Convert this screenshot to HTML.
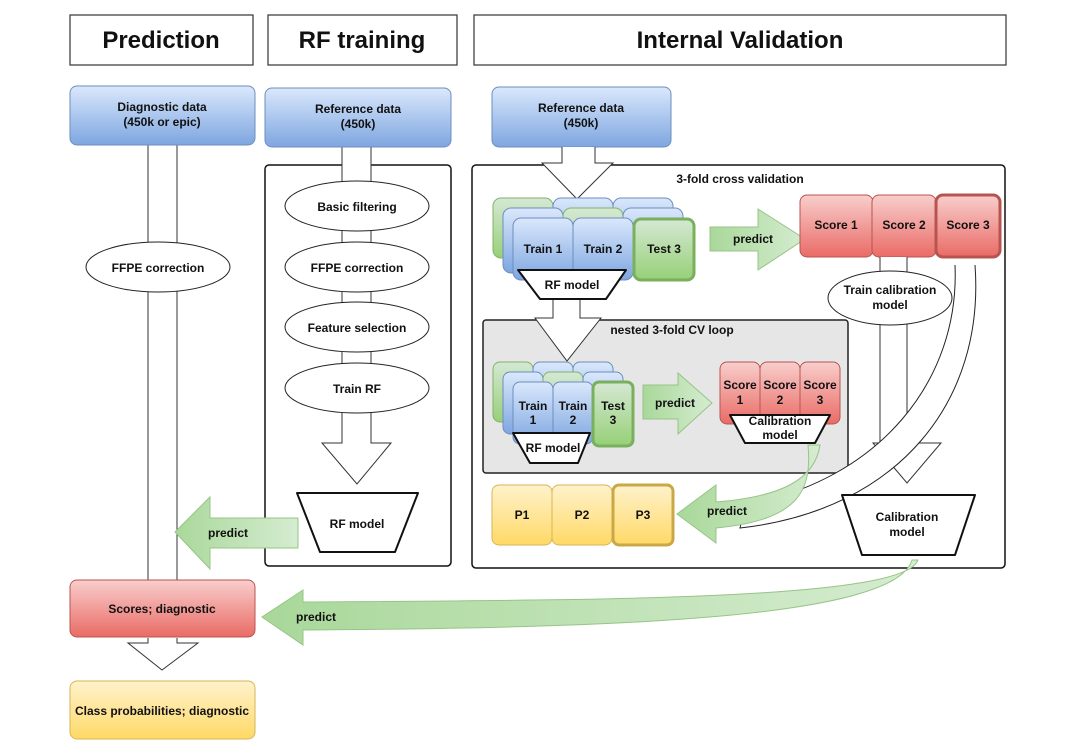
<!DOCTYPE html>
<html><head><meta charset="utf-8"><style>
html,body{margin:0;padding:0;background:#fff}
svg{display:block}
text{font-family:"Liberation Sans",Arial,sans-serif;font-weight:bold;fill:#111}
</style></head><body>
<svg width="1080" height="750" viewBox="0 0 1080 750" xmlns="http://www.w3.org/2000/svg">
<defs>
<linearGradient id="blue" x1="0" y1="0" x2="0" y2="1"><stop offset="0" stop-color="#dae8fc"/><stop offset="1" stop-color="#7ea6e0"/></linearGradient>
<linearGradient id="red" x1="0" y1="0" x2="0" y2="1"><stop offset="0" stop-color="#f8cecc"/><stop offset="1" stop-color="#ea6b66"/></linearGradient>
<linearGradient id="yel" x1="0" y1="0" x2="0" y2="1"><stop offset="0" stop-color="#fff2cc"/><stop offset="1" stop-color="#ffd966"/></linearGradient>
<linearGradient id="grn" x1="0" y1="0" x2="0" y2="1"><stop offset="0" stop-color="#d5e8d4"/><stop offset="1" stop-color="#97d077"/></linearGradient>
<linearGradient id="garr" x1="0" y1="0" x2="1" y2="0"><stop offset="0" stop-color="#a9d89a"/><stop offset="1" stop-color="#d5ecd0"/></linearGradient>
</defs>

<g stroke="#333" stroke-width="1.2" fill="#fff">
<rect x="70" y="15" width="183" height="50"/>
<rect x="268" y="15" width="189" height="50"/>
<rect x="474" y="15" width="532" height="50"/>
</g>
<g font-size="24" text-anchor="middle">
<text x="161" y="48">Prediction</text>
<text x="362" y="48">RF training</text>
<text x="740" y="48">Internal Validation</text>
</g>

<rect x="265" y="165" width="186" height="401" rx="4" fill="#fff" stroke="#111" stroke-width="1.5"/>
<rect x="472" y="165" width="533" height="403" rx="4" fill="#fff" stroke="#111" stroke-width="1.5"/>

<rect x="148" y="145" width="29" height="436" fill="#fff" stroke="#333"/>
<ellipse cx="158" cy="267" rx="72" ry="25" fill="#fff" stroke="#222"/>
<text x="158" y="272" font-size="12" text-anchor="middle">FFPE correction</text>

<path d="M342 147 V443 H322 L357 484 L391 443 H371 V147 Z" fill="#fff" stroke="#333"/>
<g fill="#fff" stroke="#222">
<ellipse cx="357" cy="206" rx="72" ry="25"/>
<ellipse cx="357" cy="267" rx="72" ry="25"/>
<ellipse cx="357" cy="327" rx="72" ry="25"/>
<ellipse cx="357" cy="388" rx="72" ry="25"/>
</g>
<g font-size="12" text-anchor="middle">
<text x="357" y="211">Basic filtering</text>
<text x="357" y="272">FFPE correction</text>
<text x="357" y="332">Feature selection</text>
<text x="357" y="393">Train RF</text>
</g>
<path d="M297 493 H418 L395 552 H320 Z" fill="#fff" stroke="#111" stroke-width="2" stroke-linejoin="round"/>
<text x="357" y="528" font-size="12" text-anchor="middle">RF model</text>

<rect x="70" y="86" width="185" height="59" rx="7" fill="url(#blue)" stroke="#6c8ebf"/>
<rect x="265" y="88" width="186" height="59" rx="7" fill="url(#blue)" stroke="#6c8ebf"/>
<rect x="492" y="87" width="179" height="60" rx="7" fill="url(#blue)" stroke="#6c8ebf"/>
<g font-size="12" text-anchor="middle">
<text x="162" y="111">Diagnostic data</text><text x="162" y="126">(450k or epic)</text>
<text x="358" y="113">Reference data</text><text x="358" y="128">(450k)</text>
<text x="581" y="112">Reference data</text><text x="581" y="127">(450k)</text>
</g>

<path d="M298 518 H210 V497 L175 532 L210 569 V548 H298 Z" fill="url(#garr)" stroke="#97c487"/>
<text x="228" y="537" font-size="12" text-anchor="middle">predict</text>

<rect x="70" y="580" width="185" height="57" rx="7" fill="url(#red)" stroke="#b85450"/>
<text x="162" y="613" font-size="12" text-anchor="middle">Scores; diagnostic</text>
<path d="M148 638 V643 H128 L162 670 L198 643 H177 V638" fill="#fff" stroke="#333"/>
<rect x="70" y="681" width="185" height="58" rx="7" fill="url(#yel)" stroke="#d6b656"/>
<text x="162" y="715" font-size="12" text-anchor="middle">Class probabilities; diagnostic</text>

<path d="M562 147 V163 H542 L577 199 L613 163 H595 V147" fill="#fff" stroke="#333"/>
<text x="740" y="183" font-size="12" text-anchor="middle">3-fold cross validation</text>

<g stroke="#82b366" fill="url(#grn)"><rect x="493" y="198" width="60" height="60" rx="8"/></g>
<g stroke="#6c8ebf" fill="url(#blue)"><rect x="553" y="198" width="60" height="60" rx="8"/><rect x="613" y="198" width="60" height="60" rx="8"/>
<rect x="503" y="208" width="60" height="65" rx="8"/></g>
<rect x="563" y="208" width="60" height="65" rx="8" fill="url(#grn)" stroke="#82b366"/>
<rect x="623" y="208" width="60" height="65" rx="8" fill="url(#blue)" stroke="#6c8ebf"/>
<rect x="513" y="218" width="60" height="62" rx="8" fill="url(#blue)" stroke="#6c8ebf"/>
<rect x="573" y="218" width="60" height="62" rx="8" fill="url(#blue)" stroke="#6c8ebf"/>
<rect x="634" y="219" width="60" height="61" rx="7" fill="url(#grn)" stroke="#7aaf5e" stroke-width="3"/>
<g font-size="12" text-anchor="middle">
<text x="543" y="253">Train 1</text><text x="603" y="253">Train 2</text><text x="664" y="253">Test 3</text>
</g>

<path d="M710 227 H758 V209 L805 239 L758 270 V251 H710 Z" fill="url(#garr)" stroke="#97c487"/>
<text x="753" y="243" font-size="12" text-anchor="middle">predict</text>

<rect x="800" y="195" width="73" height="62" rx="7" fill="url(#red)" stroke="#b85450"/>
<rect x="872" y="195" width="64" height="62" rx="7" fill="url(#red)" stroke="#b85450"/>
<rect x="936" y="195" width="64" height="62" rx="7" fill="url(#red)" stroke="#b85450" stroke-width="3"/>
<g font-size="12" text-anchor="middle">
<text x="836" y="229">Score 1</text><text x="904" y="229">Score 2</text><text x="968" y="229">Score 3</text>
</g>

<path d="M880 257 V443 H873 L907 483 L941 443 H907 V257" fill="#fff" stroke="#333"/>
<ellipse cx="890" cy="298" rx="62" ry="27" fill="#fff" stroke="#222"/>
<g font-size="12" text-anchor="middle"><text x="890" y="294">Train calibration</text><text x="890" y="309">model</text></g>

<rect x="483" y="320" width="365" height="153" rx="3" fill="#e6e6e6" stroke="#222" stroke-width="1.5"/>
<text x="672" y="334" font-size="12" text-anchor="middle">nested 3-fold CV loop</text>
<path d="M553 296 V318 H535 L567 361 L601 318 H580 V296 Z" fill="#fff" stroke="#333"/>
<path d="M518 270 H626 L606 299 H540 Z" fill="#fff" stroke="#111" stroke-width="2" stroke-linejoin="round"/>
<text x="572" y="289" font-size="12" text-anchor="middle">RF model</text>

<rect x="493" y="362" width="40" height="60" rx="7" fill="url(#grn)" stroke="#82b366"/>
<rect x="533" y="362" width="40" height="60" rx="7" fill="url(#blue)" stroke="#6c8ebf"/>
<rect x="573" y="362" width="40" height="60" rx="7" fill="url(#blue)" stroke="#6c8ebf"/>
<rect x="503" y="372" width="40" height="62" rx="7" fill="url(#blue)" stroke="#6c8ebf"/>
<rect x="543" y="372" width="40" height="62" rx="7" fill="url(#grn)" stroke="#82b366"/>
<rect x="583" y="372" width="40" height="62" rx="7" fill="url(#blue)" stroke="#6c8ebf"/>
<rect x="513" y="382" width="40" height="62" rx="7" fill="url(#blue)" stroke="#6c8ebf"/>
<rect x="553" y="382" width="40" height="62" rx="7" fill="url(#blue)" stroke="#6c8ebf"/>
<rect x="593" y="382" width="40" height="64" rx="6" fill="url(#grn)" stroke="#7aaf5e" stroke-width="3"/>
<g font-size="12" text-anchor="middle">
<text x="533" y="410">Train</text><text x="533" y="424">1</text>
<text x="573" y="410">Train</text><text x="573" y="424">2</text>
<text x="613" y="410">Test</text><text x="613" y="424">3</text>
</g>
<path d="M513 433 H590 L578 463 H530 Z" fill="#fff" stroke="#111" stroke-width="2" stroke-linejoin="round"/>
<text x="553" y="452" font-size="12" text-anchor="middle">RF model</text>
<path d="M643 385 H678 V373 L712 403 L678 434 V419 H643 Z" fill="url(#garr)" stroke="#97c487"/>
<text x="675" y="407" font-size="12" text-anchor="middle">predict</text>
<rect x="720" y="362" width="40" height="62" rx="7" fill="url(#red)" stroke="#b85450"/>
<rect x="760" y="362" width="40" height="62" rx="7" fill="url(#red)" stroke="#b85450"/>
<rect x="800" y="362" width="40" height="62" rx="7" fill="url(#red)" stroke="#b85450"/>
<g font-size="12" text-anchor="middle">
<text x="740" y="389">Score</text><text x="740" y="404">1</text>
<text x="780" y="389">Score</text><text x="780" y="404">2</text>
<text x="820" y="389">Score</text><text x="820" y="404">3</text>
</g>
<path d="M730 415 H830 L815 443 H745 Z" fill="#fff" stroke="#111" stroke-width="2" stroke-linejoin="round"/>
<g font-size="12" text-anchor="middle"><text x="780" y="425">Calibration</text><text x="780" y="439">model</text></g>

<path d="M955 265 C960 380 880 480 745 505 L740 528 C900 510 985 400 975 265" fill="#fff" stroke="#222"/>

<path d="M820 445 C815 480 780 497 716 502 V485 L677 514 L716 543 V528 C800 520 812 490 808 445 Z" fill="url(#garr)" stroke="#97c487"/>
<text x="727" y="515" font-size="12" text-anchor="middle">predict</text>

<rect x="492" y="485" width="60" height="60" rx="7" fill="url(#yel)" stroke="#d6b656"/>
<rect x="552" y="485" width="60" height="60" rx="7" fill="url(#yel)" stroke="#d6b656"/>
<rect x="613" y="485" width="60" height="60" rx="6" fill="url(#yel)" stroke="#c9a845" stroke-width="3"/>
<g font-size="12" text-anchor="middle"><text x="522" y="519">P1</text><text x="582" y="519">P2</text><text x="643" y="519">P3</text></g>

<path d="M842 495 H975 L955 555 H862 Z" fill="#fff" stroke="#111" stroke-width="2" stroke-linejoin="round"/>
<g font-size="12" text-anchor="middle"><text x="907" y="521">Calibration</text><text x="907" y="536">model</text></g>

<path d="M918 560 C905 600 600 600 303 602 V590 L262 617 L303 645 V630 C600 628 895 620 912 560 Z" fill="url(#garr)" stroke="#97c487"/>
<text x="316" y="621" font-size="12" text-anchor="middle">predict</text>
</svg>
</body></html>
